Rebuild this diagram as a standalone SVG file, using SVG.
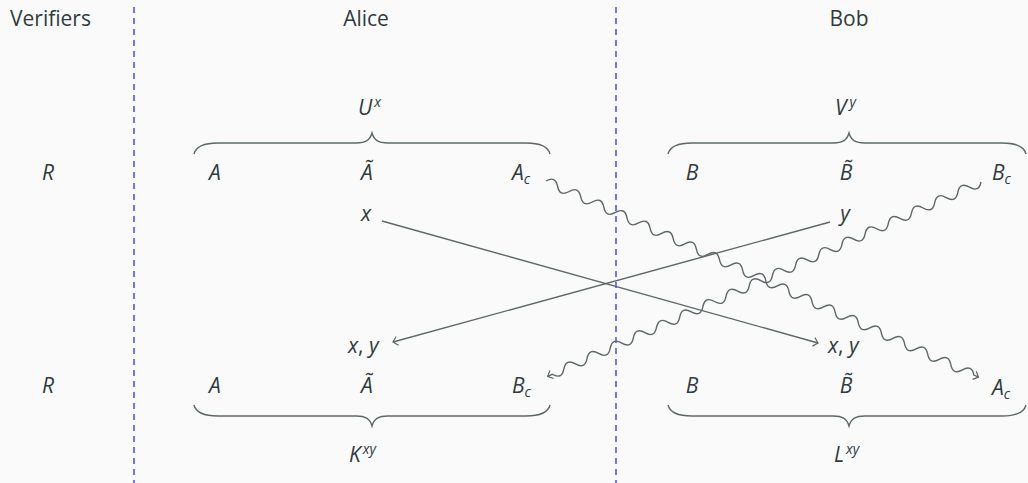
<svg xmlns="http://www.w3.org/2000/svg" width="1028" height="483" viewBox="0 0 1028 483">
<defs>
<style>
.t{font-family:"Open Sans","DejaVu Sans",sans-serif;fill:#2f3b3f;font-size:21px}
.m{font-family:"Open Sans","DejaVu Sans",sans-serif;fill:#2f3b3f;font-size:21px;font-style:italic}
.s{font-size:14px}
.ln{fill:none;stroke:#5d6868;stroke-width:1.4}
.br{fill:none;stroke:#5d6868;stroke-width:1.4}
.dash{stroke:#3c3cff;stroke-width:1.4;stroke-dasharray:6 5}
</style>
<marker id="ar" viewBox="-6 -6 12 12" refX="0" refY="0" markerWidth="12" markerHeight="12" markerUnits="userSpaceOnUse" orient="auto">
<path d="M-4.5,-4.5 Q-1,-1 0,0 Q-1,1 -4.5,4.5" fill="none" stroke="#5d6868" stroke-width="1.2"/>
</marker>
</defs>
<rect width="1028" height="483" fill="#fafafa"/>
<g id="separators">
<line class="dash" x1="134" y1="7" x2="134" y2="483"/>
<line class="dash" x1="616" y1="7" x2="616" y2="483"/>
</g>
<g id="headers">
<text class="t" x="10" y="26">Verifiers</text>
<text class="t" x="366" y="26" text-anchor="middle">Alice</text>
<text class="t" x="849" y="26" text-anchor="middle">Bob</text>
</g>
<g id="verifier-top"><text class="m" x="48" y="180" text-anchor="middle">R</text></g>
<g id="verifier-bottom"><text class="m" x="48" y="393" text-anchor="middle">R</text></g>
<g id="alice-top">
<path class="br" d="M194,154 C196,146 204,143 218,143 L356,143 C366,143 370,140 372,133 C374,140 378,143 388,143 L526,143 C540,143 548,146 550,154"/>
<text class="m" x="358" y="115">U<tspan class="s" dx="2" dy="-8">x</tspan></text>
<text class="m" x="215" y="180" text-anchor="middle">A</text>
<text class="m" x="367" y="180" text-anchor="middle">Ã</text>
<text class="m" x="512" y="180">A<tspan class="s" dy="4">c</tspan></text>
<text class="m" x="366" y="221" text-anchor="middle">x</text>
</g>
<g id="bob-top">
<path class="br" d="M668,154 C670,146 678,143 692,143 L833,143 C843,143 847,140 849,133 C851,140 855,143 865,143 L1002,143 C1016,143 1024,146 1026,154"/>
<text class="m" x="835" y="115">V<tspan class="s" dx="3" dy="-8">y</tspan></text>
<text class="m" x="692" y="180" text-anchor="middle">B</text>
<text class="m" x="846" y="180" text-anchor="middle">B̃</text>
<text class="m" x="992" y="180">B<tspan class="s" dy="4">c</tspan></text>
<text class="m" x="845" y="221" text-anchor="middle">y</text>
</g>
<g id="alice-bottom">
<text class="m" x="348" y="353">x<tspan font-style="normal">,</tspan> y</text>
<text class="m" x="215" y="393" text-anchor="middle">A</text>
<text class="m" x="367" y="393" text-anchor="middle">Ã</text>
<text class="m" x="512" y="393">B<tspan class="s" dy="4">c</tspan></text>
<path class="br" d="M194,405 C196,413 204,416 218,416 L356,416 C366,416 370,419 372,426 C374,419 378,416 388,416 L526,416 C540,416 548,413 550,405"/>
<text class="m" x="349" y="462">K<tspan class="s" dx="2" dy="-8">xy</tspan></text>
</g>
<g id="bob-bottom">
<text class="m" x="828" y="353">x<tspan font-style="normal">,</tspan> y</text>
<text class="m" x="692" y="393" text-anchor="middle">B</text>
<text class="m" x="846" y="393" text-anchor="middle">B̃</text>
<text class="m" x="992" y="395">A<tspan class="s" dy="4">c</tspan></text>
<path class="br" d="M668,405 C670,413 678,416 692,416 L833,416 C843,416 847,419 849,426 C851,419 855,416 865,416 L1002,416 C1016,416 1024,413 1026,405"/>
<text class="m" x="834" y="462">L<tspan class="s" dx="2" dy="-8">xy</tspan></text>
</g>
<g id="connectors">
<line class="ln" x1="382" y1="221" x2="818" y2="343" marker-end="url(#ar)"/>
<line class="ln" x1="830" y1="222" x2="393" y2="342" marker-end="url(#ar)"/>
<path class="ln" transform="translate(546,181) rotate(24.4)" marker-end="url(#ar)" d="M0,0 q6.35,-9 12.7,0 t12.7,0 t12.7,0 t12.7,0 t12.7,0 t12.7,0 t12.7,0 t12.7,0 t12.7,0 t12.7,0 t12.7,0 t12.7,0 t12.7,0 t12.7,0 t12.7,0 t12.7,0 t12.7,0 t12.7,0 t12.7,0 t12.7,0 t12.7,0 t12.7,0 t12.7,0 t12.7,0 t12.7,0 t12.7,0 t12.7,0 t12.7,0 t12.7,0 t12.7,0 t12.7,0 t12.7,0 t12.7,0 t12.7,0 t12.7,0 t12.7,0 t12.7,0 l5,0"/>
<path class="ln" transform="translate(981,182) rotate(155.85)" marker-end="url(#ar)" d="M0,0 q6.35,-9 12.7,0 t12.7,0 t12.7,0 t12.7,0 t12.7,0 t12.7,0 t12.7,0 t12.7,0 t12.7,0 t12.7,0 t12.7,0 t12.7,0 t12.7,0 t12.7,0 t12.7,0 t12.7,0 t12.7,0 t12.7,0 t12.7,0 t12.7,0 t12.7,0 t12.7,0 t12.7,0 t12.7,0 t12.7,0 t12.7,0 t12.7,0 t12.7,0 t12.7,0 t12.7,0 t12.7,0 t12.7,0 t12.7,0 t12.7,0 t12.7,0 t12.7,0 t12.7,0 l5,0"/>
</g>
</svg>
